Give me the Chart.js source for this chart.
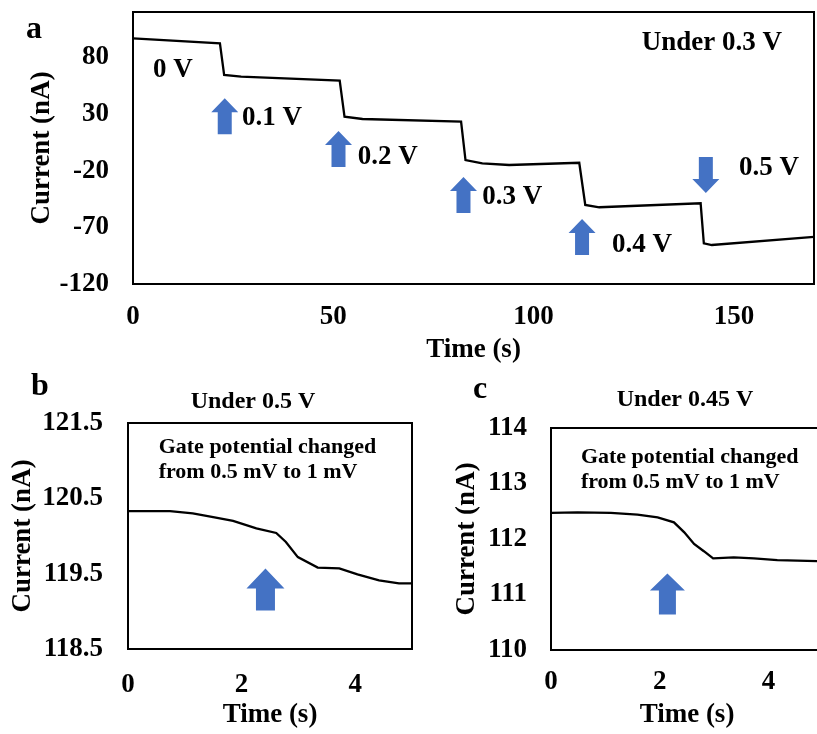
<!DOCTYPE html>
<html>
<head>
<meta charset="utf-8">
<script src="https://cdn.jsdelivr.net/npm/chart.js@4.4.1/dist/chart.umd.min.js"></script>
<style>
  html, body { margin: 0; padding: 0; background: #fff; overflow: hidden; width: 817px; height: 734px; }
  .panel { position: absolute; }
</style>
</head>
<body>
<div class="panel" style="left:0;top:0;width:817px;height:366px"><canvas id="chartA" width="817" height="366"></canvas></div>
<div class="panel" style="left:0;top:370px;width:415px;height:364px"><canvas id="chartB" width="415" height="364"></canvas></div>
<div class="panel" style="left:420px;top:370px;width:420px;height:364px"><canvas id="chartC" width="420" height="364"></canvas></div>
<script>
// panel a - stepped current under 0.3 V
const timeA = [0, 21.7, 22.75, 27, 51.6, 52.8, 57.3, 81.9, 83.0, 87.2, 93.9, 111.4, 112.9, 116.4, 141.7, 142.5, 144.5, 170];
const currentA = [96.8, 92.4, 64.4, 63, 59.4, 27.6, 25.6, 23.2, -10.6, -13.5, -15.0, -13.0, -50.3, -52.3, -48.8, -84.1, -85.6, -78.4];
const xTicksA = [0, 50, 100, 150];
const yTicksA = [-120, -70, -20, 30, 80];
// gate steps: arrow tip (time, current) and its label
const stepTimeA = [22.9, 51.3, 82.5, 112.1, 143];
const stepTipA = [43.8, 15, -25.6, -62.6, -39.7];
const stepDirA = ['up', 'up', 'up', 'up', 'down'];
const stepLabelsA = ['0.1 V', '0.2 V', '0.3 V', '0.4 V', '0.5 V'];
const stepLabelTimeA = [27.2, 56.1, 87.2, 119.6, 151.3];
const stepLabelCurrentA = [26.5, -8, -43.2, -85.6, -17.6];

// panel b - under 0.5 V
const timeB = [0, 0.74, 1.14, 1.5, 1.85, 2.26, 2.61, 2.78, 2.99, 3.34, 3.72, 4.04, 4.42, 4.77, 5];
const currentB = [120.33, 120.33, 120.30, 120.25, 120.2, 120.1, 120.04, 119.92, 119.72, 119.58, 119.57, 119.49, 119.41, 119.37, 119.37];
const yTicksB = [118.5, 119.5, 120.5, 121.5];

// panel c - under 0.45 V
const timeC = [0, 0.49, 1.1, 1.59, 1.96, 2.26, 2.45, 2.63, 2.81, 2.98, 3.36, 3.73, 4.16, 4.89, 5];
const currentC = [112.47, 112.48, 112.47, 112.44, 112.39, 112.30, 112.12, 111.91, 111.78, 111.65, 111.67, 111.65, 111.62, 111.60, 111.59];
const yTicksC = [110, 111, 112, 113, 114];

const xTicksBC = [0, 2, 4];
const gateNote = ['Gate potential changed', 'from 0.5 mV to 1 mV'];

const FONT = "'Liberation Serif', 'Times New Roman', serif";
const BLUE = '#4472C4';

function drawArrow(ctx, x, y, dir, s) {
  // x,y is the tip
  const d = dir === 'up' ? 1 : -1;
  ctx.beginPath();
  ctx.moveTo(x, y);
  ctx.lineTo(x + s.head / 2, y + d * s.headH);
  ctx.lineTo(x + s.shaft / 2, y + d * s.headH);
  ctx.lineTo(x + s.shaft / 2, y + d * s.len);
  ctx.lineTo(x - s.shaft / 2, y + d * s.len);
  ctx.lineTo(x - s.shaft / 2, y + d * s.headH);
  ctx.lineTo(x - s.head / 2, y + d * s.headH);
  ctx.closePath();
  ctx.fill();
}

const annotate = {
  id: 'annotate',
  afterDatasetsDraw(chart, args, opts) {
    const ctx = chart.ctx, a = chart.chartArea;
    const xs = chart.scales.x, ys = chart.scales.y;
    ctx.save();
    ctx.strokeStyle = '#000';
    ctx.lineWidth = 2;
    ctx.strokeRect(a.left, a.top, a.right - a.left, a.bottom - a.top);

    ctx.fillStyle = BLUE;
    (opts.arrows || []).forEach(ar => {
      drawArrow(ctx, xs.getPixelForValue(ar.x), ys.getPixelForValue(ar.y), ar.dir, opts.arrowSize);
    });

    ctx.fillStyle = '#000';
    ctx.textBaseline = 'middle';
    ctx.textAlign = 'left';
    (opts.notes || []).forEach(n => {
      ctx.font = 'bold ' + n.size + 'px ' + FONT;
      ctx.fillText(n.text, xs.getPixelForValue(n.x), ys.getPixelForValue(n.y));
    });

    if (opts.panel) {
      ctx.font = 'bold 32px ' + FONT;
      ctx.textAlign = 'left';
      ctx.fillText(opts.panel.text, opts.panel.x, opts.panel.y);
    }
    if (opts.heading) {
      ctx.font = 'bold 24px ' + FONT;
      ctx.textAlign = 'center';
      ctx.fillText(opts.heading.text, opts.heading.x, opts.heading.y);
    }
    ctx.restore();
  }
};

function makeChart(id, cfg) {
  return new Chart(document.getElementById(id), {
    type: 'line',
    data: {
      datasets: [{
        data: cfg.time.map((t, i) => ({ x: t, y: cfg.current[i] })),
        borderColor: '#000',
        borderWidth: 2.3,
        pointRadius: 0,
        tension: 0,
        fill: false
      }]
    },
    options: {
      responsive: false,
      animation: false,
      events: [],
      layout: { padding: cfg.padding },
      plugins: {
        legend: { display: false },
        tooltip: { enabled: false },
        annotate: cfg.annotate
      },
      scales: {
        x: {
          type: 'linear',
          min: cfg.xMin, max: cfg.xMax,
          afterBuildTicks: s => { s.ticks = cfg.xTicks.map(v => ({ value: v })); },
          afterFit: s => { s.height = cfg.xHeight; s.paddingLeft = 0; s.paddingRight = 0; },
          grid: { display: false, drawTicks: false },
          border: { display: false },
          ticks: { color: '#000', padding: cfg.xTickPad, maxRotation: 0, font: { family: FONT, size: 27, weight: 'bold' }, callback: v => String(v) },
          title: { display: true, text: 'Time (s)', color: '#000', padding: { top: 0, bottom: cfg.xTitlePad }, font: { family: FONT, size: 27, weight: 'bold' } }
        },
        y: {
          type: 'linear',
          min: cfg.yMin, max: cfg.yMax,
          afterBuildTicks: s => { s.ticks = cfg.yTicks.map(v => ({ value: v })); },
          afterFit: s => { s.width = cfg.yWidth; s.paddingTop = 0; s.paddingBottom = 0; },
          grid: { display: false, drawTicks: false },
          border: { display: false },
          ticks: { color: '#000', padding: cfg.yTickPad, font: { family: FONT, size: 27, weight: 'bold' }, callback: cfg.yFormat },
          title: { display: true, text: 'Current (nA)', color: '#000', padding: { top: cfg.yTitlePad, bottom: 0 }, font: { family: FONT, size: 27, weight: 'bold' } }
        }
      }
    },
    plugins: [annotate]
  });
}

const notesA = stepLabelsA.map((t, i) => ({ text: t, x: stepLabelTimeA[i], y: stepLabelCurrentA[i], size: 27 }));
notesA.push({ text: '0 V', x: 5, y: 68.8, size: 27 });
notesA.push({ text: 'Under 0.3 V', x: 127, y: 92.6, size: 27 });

makeChart('chartA', {
  time: timeA, current: currentA,
  xMin: 0, xMax: 170, yMin: -120, yMax: 120,
  xTicks: xTicksA, yTicks: yTicksA,
  padding: { left: 0, top: 12, right: 3, bottom: 0 },
  yWidth: 133, xHeight: 82,
  xTickPad: 17, yTickPad: 24, xTitlePad: 0, yTitlePad: 26,
  yFormat: v => String(v),
  annotate: {
    arrows: stepTimeA.map((t, i) => ({ x: t, y: stepTipA[i], dir: stepDirA[i] })),
    arrowSize: { head: 27, shaft: 14, headH: 14, len: 36 },
    notes: notesA,
    panel: { text: 'a', x: 26, y: 30 }
  }
});

makeChart('chartB', {
  time: timeB, current: currentB,
  xMin: 0, xMax: 5, yMin: 118.5, yMax: 121.5,
  xTicks: xTicksBC, yTicks: yTicksB,
  padding: { left: 0, top: 53, right: 3, bottom: 0 },
  yWidth: 128, xHeight: 85,
  xTickPad: 20, yTickPad: 25, xTitlePad: 3, yTitlePad: 7,
  yFormat: v => v.toFixed(1),
  annotate: {
    arrows: [{ x: 2.42, y: 119.57, dir: 'up' }],
    arrowSize: { head: 38, shaft: 19, headH: 20, len: 42 },
    notes: [
      { text: gateNote[0], x: 0.54, y: 121.18, size: 22 },
      { text: gateNote[1], x: 0.54, y: 120.85, size: 22 }
    ],
    panel: { text: 'b', x: 31, y: 17 },
    heading: { text: 'Under 0.5 V', x: 253, y: 32 }
  }
});

makeChart('chartC', {
  time: timeC, current: currentC,
  xMin: 0, xMax: 5, yMin: 110, yMax: 114,
  xTicks: xTicksBC, yTicks: yTicksC,
  padding: { left: 0, top: 58, right: 17, bottom: 0 },
  yWidth: 131, xHeight: 84,
  xTickPad: 16, yTickPad: 24, xTitlePad: 3, yTitlePad: 31,
  yFormat: v => String(v),
  annotate: {
    arrows: [{ x: 2.14, y: 111.38, dir: 'up' }],
    arrowSize: { head: 35, shaft: 17, headH: 17, len: 41 },
    notes: [
      { text: gateNote[0], x: 0.55, y: 113.48, size: 22 },
      { text: gateNote[1], x: 0.55, y: 113.02, size: 22 }
    ],
    panel: { text: 'c', x: 53, y: 20 },
    heading: { text: 'Under 0.45 V', x: 265, y: 30 }
  }
});
</script>
</body>
</html>
